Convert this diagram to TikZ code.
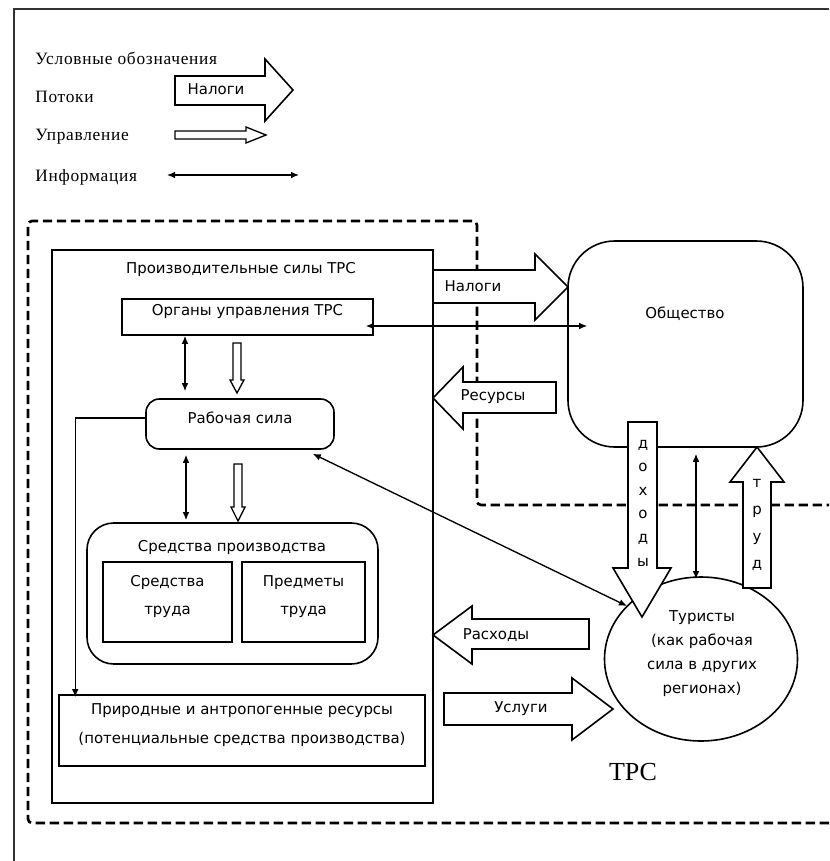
\documentclass[tikz,border=0pt]{standalone}
\usepackage{fontspec}
\setmainfont{DejaVu Sans}
\newfontfamily\serifrm{Liberation Serif}
\newfontfamily\serifwide[LetterSpace=4.3]{Liberation Serif}
\usetikzlibrary{arrows.meta,calc,fit,shapes.geometric}
\begin{document}
\begin{tikzpicture}[x=0.75pt,y=-0.75pt,
  sans/.style={font=\fontsize{11.2pt}{12pt}\selectfont},
  box/.style={draw, line width=1.2pt, inner sep=0pt, sans, align=center},
  lbl/.style={inner sep=0pt, sans, align=center},
  leg/.style={inner sep=0pt, anchor=west, font=\serifwide\fontsize{13pt}{14pt}\selectfont},
  info/.style={line width=1pt, {Latex[length=6pt,width=5pt]}-{Latex[length=6pt,width=5pt]}},
  infoone/.style={line width=1pt, -{Latex[length=6pt,width=5pt]}},
  fat/.style={draw, fill=white, line width=1.2pt, line join=miter},
  ctrl/.style={draw, fill=white, line width=1pt, line join=miter},
  dashline/.style={dash pattern=on 7pt off 3.5pt, line width=2pt}]
\useasboundingbox (0,0) rectangle (829,861);
% outer frame
\draw[line width=1.2pt, black!80] (14,861) -- (14,9) -- (829,9);

% legend
\node[leg] (legtitle) at (35,58) {Условные  обозначения};
\node[leg] (legflow) at (35,97) {Потоки};
\node[leg] (legctrl) at (35,137) {Управление};
\node[leg] (leginfo) at (35,177) {Информация};
\draw[fat] (175,76) -- (265,76) -- (265,59) -- (293,90) -- (265,121) -- (265,105) -- (175,105) -- cycle;
\node[lbl] (legtax) at (216,89) {Налоги};
\draw[ctrl] (175,131) -- (246,131) -- (246,127) -- (266,135) -- (246,143) -- (246,139) -- (175,139) -- cycle;
\coordinate (infoL) at (167,175);
\coordinate (infoR) at (299,175);
\draw[info] (infoL) -- (infoR);

% dashed region
\draw[dashline, rounded corners=3] (829,823) -- (28,823) -- (28,221) -- (477,221) -- (477,505) -- (829,505);

% productive forces
\node[box, fit={(52,250)(433,803)}] (pf) {};
\node[lbl] (pftitle) at (241,270) {Производительные  силы ТРС};
\node[box, fit={(122,299)(373,335)}] (org) {Органы управления ТРС};
\node[box, rounded corners=10, fit={(146,399)(334,449)}] (rab) {Рабочая сила};
\node[box, rounded corners=20, fit={(87,523)(378,664)}] (sp) {};
\node[lbl] (sptitle) at (232,548) {Средства  производства};
\node[box, fit={(103,562)(232,642)}, font=\fontsize{11.2pt}{21pt}\selectfont] (st) {Средства\\труда};
\node[box, fit={(242,562)(365,642)}, font=\fontsize{11.2pt}{21pt}\selectfont] (pt) {Предметы\\труда};
\node[box, fit={(59,695)(425,766)}, font=\fontsize{11.2pt}{21.75pt}\selectfont] (pr) {Природные  и антропогенные  ресурсы\\(потенциальные  средства  производства)};

% society and tourists
\node[box, rounded corners=35, fit={(568,241)(803,447)}] (soc) {};
\node[lbl] (soctext) at (685,314) {Общество};
\node[draw, line width=1.2pt, ellipse, minimum width={193*0.75pt}, minimum height={164*0.75pt}, inner sep=0pt] (tur) at (701,659) {};
\node[lbl, font=\fontsize{11.2pt}{18pt}\selectfont] (turtext) at (702,654) {Туристы\\(как рабочая\\сила  в других\\регионах)};

% inner connectors
\draw[info] ($(org.south)+(-62.5,0)$) -- ($(rab.north)+(-55,-7)$);
\draw[ctrl] (233,343) -- (233,380) -- (230,380) -- (237,393) -- (244,380) -- (241,380) -- (241,343) -- cycle;
\draw[info] ($(rab.south)+(-54,5)$) -- ($(sp.north)+(-46.5,-2)$);
\draw[ctrl] (234,464) -- (234,507) -- (231,507) -- (238,521) -- (245,507) -- (242,507) -- (242,464) -- cycle;
\draw[infoone] ($(rab.west)+(0,-6)$) -| ($(pr.north west)+(17,3)$);
\draw[info] ($(org.east)+(-8,9)$) -- ($(soc.west)+(20,-18)$);
\draw[info] ($(rab.south east)+(-22,4)$) -- ($(tur.center)+(-74,-53)$);
\draw[info] ($(soc.south)+(10.5,6)$) -- ($(tur.north)+(-5,3)$);

% flows
\draw[fat] (433,270) -- (535,270) -- (535,254) -- (568,287) -- (535,320) -- (535,303) -- (433,303) -- cycle;
\node[lbl] (taxlbl) at (473,286) {Налоги};
\draw[fat] (556,382) -- (463,382) -- (463,367) -- (433,398) -- (463,429) -- (463,413) -- (556,413) -- cycle;
\node[lbl] (reslbl) at (493,397) {Ресурсы};
\draw[fat] (589,619) -- (472,619) -- (472,606) -- (433,635) -- (472,664) -- (472,649) -- (589,649) -- cycle;
\node[lbl] (explbl) at (496,635) {Расходы};
\draw[fat] (444,693) -- (572,693) -- (572,678) -- (613,709) -- (572,740) -- (572,725) -- (444,725) -- cycle;
\node[lbl] (svclbl) at (521,709) {Услуги};
\draw[fat] (628,422) -- (628,568) -- (613,568) -- (642,617) -- (671,568) -- (657,568) -- (657,422) -- cycle;
\node[lbl, font=\fontsize{11.2pt}{17.7pt}\selectfont] (inclbl) at (643,503) {д\\о\\х\\о\\д\\ы};
\draw[fat] (743,588) -- (743,482) -- (730,482) -- (757,447) -- (784,482) -- (771,482) -- (771,588) -- cycle;
\node[lbl, font=\fontsize{11.2pt}{20.3pt}\selectfont] (labor) at (757,525) {т\\р\\у\\д};

% region label
\node[inner sep=0pt, font=\serifrm\fontsize{19.5pt}{22pt}\selectfont] (trs) at (633,772) {ТРС};
\end{tikzpicture}
\end{document}
